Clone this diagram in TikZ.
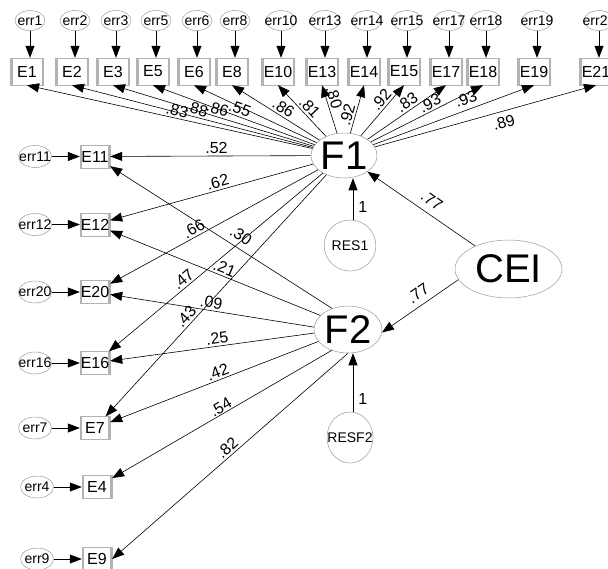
\documentclass[tikz,border=0pt]{standalone}
\usepackage{fontspec}
\setmainfont{Liberation Sans}
\usetikzlibrary{arrows.meta,positioning,shapes.geometric}

\newcommand{\fsz}[1]{\fontsize{#1}{#1}\selectfont}

\begin{document}
\begin{tikzpicture}[
    x=1pt, y=-1pt,
    -{Triangle[length=12pt,width=9pt]},
    line width=0.6pt,
    item node/.style={rectangle,draw=gray!60,line width=0.4pt,minimum width=33pt,minimum height=27pt,inner sep=0pt,font=\fsz{16},
      path picture={\draw[-,line width=4pt] (path picture bounding box.north west) -- (path picture bounding box.south west)
        (path picture bounding box.north east) -- (path picture bounding box.south east);}},
    side item/.style={item node,minimum width=30pt,minimum height=23pt},
    error node/.style={ellipse,draw=gray!80,line width=0.5pt,minimum width=30pt,minimum height=20pt,inner sep=0pt,font=\fsz{14}},
    side error/.style={error node,minimum width=33pt,minimum height=22pt},
    factor node/.style={ellipse,draw=gray!80,line width=0.5pt,inner sep=0pt,font=\fsz{40}},
    residual node/.style={ellipse,draw=gray!80,line width=0.5pt,minimum width=46pt,minimum height=51pt,inner sep=0pt,font=\fsz{14}},
    weight/.style={font=\fsz{16},inner sep=2pt},
    coef/.style={weight,sloped}]

  \useasboundingbox (0,0) rectangle (608,568);

  % latent variables
  \node[factor node,minimum width=66pt,minimum height=45pt] (F1) at (344,155.5) {F1};
  \node[factor node,minimum width=68pt,minimum height=47pt] (F2) at (348,329.5) {F2};
  \node[factor node,minimum width=107pt,minimum height=58pt] (CEI) at (508.5,269) {CEI};
  \node[residual node] (RES1) at (350,245.5) {RES1};
  \node[residual node] (RESF2) at (350,437.5) {\makebox[0pt]{RESF2}};

  % items of the top row
  \foreach \n/\x in {1/27,2/72,3/113,5/153,6/194,8/232,10/278,13/322,14/364,15/404,17/446,18/483,19/534,21/596} {
    \node[item node] (E\n) at (\x,71.5) {E\n};
    \node[error node] (err\n) [above=27pt of E\n, xshift=3pt] {\makebox[0pt]{err\n}};
    \path (err\n) edge (err\n |- E\n.north);
  }

  % items of the left column
  \foreach \n/\x/\y in {11/95/156.5,12/95/224.5,20/95/292,16/95/363,7/95/428,4/97/487,9/97/559} {
    \node[side item] (E\n) at (\x,\y) {E\n};
    \node[side error] (err\n) [left=28pt of E\n] {\makebox[0pt]{err\n}};
    \path (err\n) edge (E\n);
  }

  \path
    (F1)
         edge node[coef,above,pos=.48] {.83} (E1.south)
         edge node[coef,above,pos=.49] {.88} (E2.south)
         edge node[coef,above,pos=.49] {.86} (E3.south)
         edge node[coef,above,pos=.48] {.55} (E5.south)
         edge (E6.south)
         edge node[coef,above,pos=.46] {.86} (E8.south)
         edge node[coef,above,pos=.46] {.81} (E10.south)
         edge node[coef,above,pos=.70] {.80} (E13.south)
         edge node[coef,above,pos=.34] {.92} (E14.south)
         edge node[coef,above,pos=.61] {.92} (E15.south)
         edge node[coef,above,pos=.56] {.83} (E17.south)
         edge node[coef,above,pos=.56] {.93} (E18.south)
         edge node[coef,above=3pt,pos=.60] {.93} (E19.south)
         edge node[coef,below=3pt,pos=.57] {.89} (E21.south)
         edge node[coef,above,pos=.47] {.52} (E11)
         edge node[coef,above,pos=.46] {.62} (E12)
         edge node[coef,above,pos=.58] {.66} (E20)
         edge node[coef,above,pos=.63] {.47} (E16)
         edge node[coef,above,pos=.61] {.43} (E7)
    (F2.127) edge node[coef,above=4pt,pos=.44] {.30} (E11)
    (F2.153) edge node[coef,above,pos=.47] {.21} (E12)
    (F2.176) edge node[coef,above,pos=.51] {.09} (E20)
    (F2.186) edge node[coef,above,pos=.47] {.25} (E16)
    (F2.202) edge node[coef,above,pos=.47] {.42} (E7)
    (F2.232) edge node[coef,above=-1pt,pos=.49] {.54} (E4)
    (F2.270) edge node[coef,above,pos=.49] {.82} (E9.east)
    (CEI)
         edge node[coef,above=5pt,pos=.47] {.77} (F1)
    (CEI.192)
         edge node[coef,above=4pt,pos=.44] {.77} (F2.-5)
    ([xshift=3pt]RES1.north)
         edge node[weight,right=3pt,pos=.3] {1} ([xshift=3pt]RES1.north |- F1.south)
    ([xshift=3pt]RESF2.north)
         edge node[weight,right=3pt,pos=.22] {1} ([xshift=3pt]RESF2.north |- F2.south);
\end{tikzpicture}
\end{document}
